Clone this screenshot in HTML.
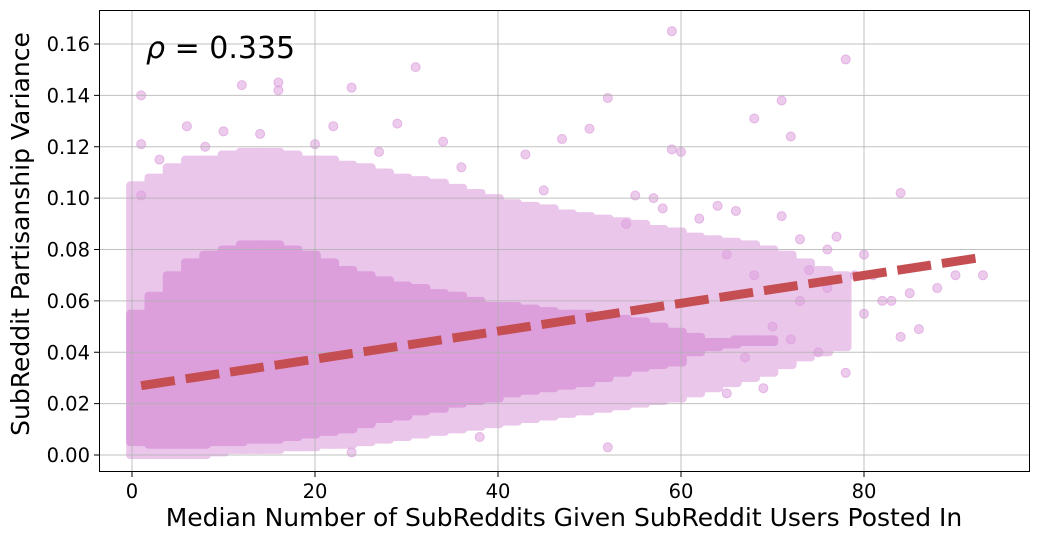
<!DOCTYPE html>
<html><head><meta charset="utf-8">
<style>
body{margin:0;background:#fff;}
svg{display:block;font-family:"DejaVu Sans","Liberation Sans",sans-serif;}
</style></head>
<body>
<svg id="chart" width="1039" height="541" viewBox="0 0 1039 541" xmlns="http://www.w3.org/2000/svg"></svg>
<script>
// Per-bin density ranges of the point cloud (x = median subreddits)
const binX = [1,3,5,7,9,11,13,15,17,19,21,23,25,27,29,31,33,35,37,39,41,43,45,47,49,51,53,55,57,59,61,63,65,67,69,71,73,75,77];
const envLow = [0.000,0.000,0.000,0.000,0.001,0.002,0.002,0.002,0.003,0.003,0.004,0.004,0.005,0.006,0.007,0.008,0.009,0.010,0.011,0.012,0.013,0.014,0.015,0.016,0.017,0.018,0.019,0.020,0.021,0.022,0.024,0.026,0.028,0.030,0.032,0.035,0.038,0.040,0.042];
const envHigh = [0.105,0.108,0.112,0.115,0.115,0.117,0.118,0.118,0.117,0.115,0.115,0.113,0.112,0.110,0.108,0.107,0.106,0.104,0.102,0.100,0.098,0.097,0.096,0.094,0.093,0.092,0.091,0.090,0.088,0.087,0.085,0.084,0.083,0.082,0.080,0.078,0.075,0.072,0.070];
const coreLow = [0.005,0.004,0.004,0.004,0.005,0.005,0.006,0.006,0.007,0.008,0.009,0.010,0.012,0.014,0.015,0.017,0.018,0.020,0.021,0.022,0.024,0.025,0.026,0.027,0.028,0.030,0.032,0.034,0.035,0.036,0.040,0.042,0.043,0.044,0.044,0,0,0,0];
const coreHigh = [0.055,0.062,0.070,0.075,0.078,0.080,0.082,0.082,0.080,0.078,0.075,0.072,0.070,0.068,0.066,0.065,0.063,0.062,0.060,0.058,0.058,0.057,0.056,0.055,0.055,0.054,0.053,0.052,0.050,0.048,0.046,0.044,0.044,0.045,0.045,0,0,0,0];
// Individual sparse points
const ptX = [1,1,1,16,16,12,24,31,29,59,78,71,68,72,52,50,47,59,60,43,22,6,10,34,84,93,85,84,86,78,69,75,80,82,83,88,90,76,77,74,73,71,66,62,64,70,72,67,65,52,38,24,54,57,55,58,65,68,73,76,79,80,81,3,8,14,20,27,36,45];
const ptY = [0.140,0.121,0.101,0.145,0.142,0.144,0.143,0.151,0.129,0.165,0.154,0.138,0.131,0.124,0.139,0.127,0.123,0.119,0.118,0.117,0.128,0.128,0.126,0.122,0.102,0.070,0.063,0.046,0.049,0.032,0.026,0.040,0.055,0.060,0.060,0.065,0.070,0.080,0.085,0.072,0.084,0.093,0.095,0.092,0.097,0.050,0.045,0.038,0.024,0.003,0.007,0.001,0.090,0.100,0.101,0.096,0.078,0.070,0.060,0.065,0.070,0.078,0.070,0.115,0.120,0.125,0.121,0.118,0.112,0.103];
const trendX = [1,93];
const trendY = [0.027,0.077];
const xTicks = [0,20,40,60,80];
const yTicks = [0.00,0.02,0.04,0.06,0.08,0.10,0.12,0.14,0.16];

const L=99,R=1030,T=10,B=472;
const sx=v=>132+v*9.15;
const sy=v=>455-v*2568.75;
const NS="http://www.w3.org/2000/svg";
const svg=document.getElementById('chart');
function mk(tag,attrs,parent){const e=document.createElementNS(NS,tag);for(const k in attrs)e.setAttribute(k,attrs[k]);(parent||svg).appendChild(e);return e;}

const defs=mk('defs',{});
const cp=mk('clipPath',{id:'pc'},defs);
mk('rect',{x:L,y:T,width:R-L,height:B-T},cp);
const plot=mk('g',{'clip-path':'url(#pc)'});



for(let i=0;i<binX.length;i++){
  const r=mk('rect',{x:sx(binX[i]-1.2)-4,y:sy(envHigh[i])-4,width:2.4*9.15+8,height:sy(envLow[i])-sy(envHigh[i])+8,fill:'#ebc6eb',rx:4},plot);
  
  
}
for(let i=0;i<binX.length;i++){
  if(coreHigh[i]<=coreLow[i]) continue;
  const r=mk('rect',{x:sx(binX[i]-1.2)-4,y:sy(coreHigh[i])-4,width:2.4*9.15+8,height:sy(coreLow[i])-sy(coreHigh[i])+8,fill:'#dc9fdc',rx:4},plot);
  
  
}
for(let i=0;i<ptX.length;i++){
  const c=mk('circle',{cx:sx(ptX[i]),cy:sy(ptY[i]),r:4.5,fill:'#dda0dd','fill-opacity':0.55,stroke:'#dda0dd','stroke-opacity':0.7},plot);
  
  
}
xTicks.forEach(t=>{const g=mk('line',{x1:sx(t),x2:sx(t),y1:T,y2:B,stroke:'#b0b0b0','stroke-width':1,'stroke-opacity':0.8},plot);
  
  });
yTicks.forEach(t=>{const g=mk('line',{x1:L,x2:R,y1:sy(t),y2:sy(t),stroke:'#b0b0b0','stroke-width':1,'stroke-opacity':0.8},plot);
  
  });
const tl=mk('line',{x1:sx(trendX[0]),y1:sy(trendY[0]),x2:sx(trendX[1]),y2:sy(trendY[1]),stroke:'#c44e52','stroke-width':9,'stroke-dasharray':'34 11'},plot);



const fr=mk('rect',{x:L+0.5,y:T+0.5,width:R-L-1,height:B-T-1,fill:'none',stroke:'#000','stroke-width':1});



xTicks.forEach(t=>{
  mk('line',{x1:sx(t),x2:sx(t),y1:B,y2:B+5,stroke:'#000'});
  const tx=mk('text',{x:sx(t),y:B+26,'text-anchor':'middle','font-size':19.5,fill:'#000'});
  tx.textContent=t;
  
  
});
yTicks.forEach(t=>{
  mk('line',{x1:L-5,x2:L,y1:sy(t),y2:sy(t),stroke:'#000'});
  const tx=mk('text',{x:L-9,y:sy(t)+7,'text-anchor':'end','font-size':19.5,fill:'#000'});
  tx.textContent=t.toFixed(2);
  
  
});
const xl=mk('text',{x:564,y:526,'text-anchor':'middle','font-size':25,fill:'#000'});
xl.textContent='Median Number of SubReddits Given SubReddit Users Posted In';


const yl=mk('text',{x:0,y:0,'text-anchor':'middle','font-size':25,fill:'#000',transform:'translate(29,234) rotate(-90)'});
yl.textContent='SubReddit Partisanship Variance';


const an=mk('text',{x:146,y:58,'font-size':30,fill:'#000'});
an.innerHTML='<tspan font-style="italic">ρ</tspan> = 0.335';


</script>
</body></html>
